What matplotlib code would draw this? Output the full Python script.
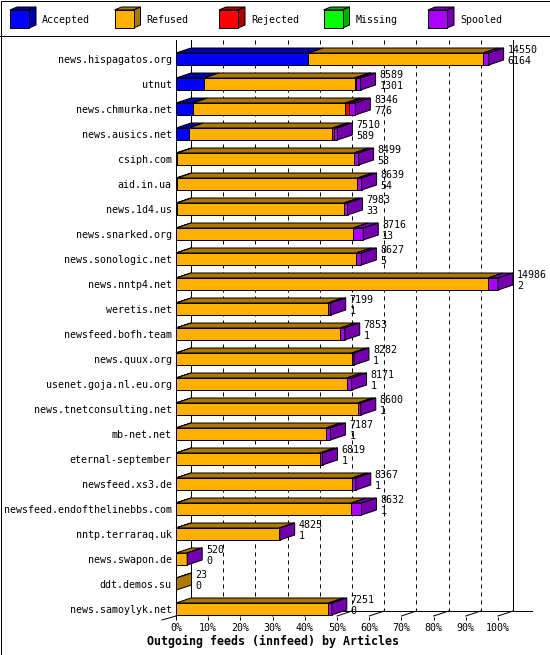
import numpy as np
import matplotlib
matplotlib.use("Agg")
import matplotlib.pyplot as plt
from matplotlib.patches import Polygon, Rectangle

hosts = ["news.hispagatos.org", "utnut", "news.chmurka.net", "news.ausics.net",
         "csiph.com", "aid.in.ua", "news.1d4.us", "news.snarked.org",
         "news.sonologic.net", "news.nntp4.net", "weretis.net", "newsfeed.bofh.team",
         "news.quux.org", "usenet.goja.nl.eu.org", "news.tnetconsulting.net",
         "mb-net.net", "eternal-september", "newsfeed.xs3.de",
         "newsfeed.endofthelinebbs.com", "nntp.terraraq.uk", "news.swapon.de",
         "ddt.demos.su", "news.samoylyk.net"]
offered = [14550, 8589, 8346, 7510, 8499, 8639, 7983, 8716, 8627, 14986, 7199, 7853,
           8282, 8171, 8600, 7187, 6819, 8367, 8632, 4825, 520, 23, 7251]
accepted = [6164, 1301, 776, 589, 58, 54, 33, 13, 5, 2, 1, 1,
            1, 1, 1, 1, 1, 1, 1, 1, 0, 0, 0]
rejected = [0, 70, 190, 60, 0, 0, 0, 0, 0, 0, 0, 0,
            0, 0, 0, 0, 0, 0, 0, 0, 0, 0, 0]
missing = [0] * 23
spooled = [260, 210, 280, 170, 230, 200, 170, 480, 250, 470, 140, 215,
           110, 230, 150, 215, 140, 185, 480, 15, 10, 0, 155]
refused = [o - a - r - m - s for o, a, r, m, s in
           zip(offered, accepted, rejected, missing, spooled)]

series = ["Accepted", "Refused", "Rejected", "Missing", "Spooled"]
colors = ["#0000ff", "#ffb000", "#ff0000", "#00ff00", "#aa00ff"]


def dark(c, f=0.68):
    rgb = np.array(matplotlib.colors.to_rgb(c))
    return tuple(rgb * f)


font = "DejaVu Sans Mono"
fs = 7.2
lw = 0.72

fig = plt.figure(figsize=(5.5, 6.55), dpi=100)

# frame + legend in pixel coordinates
bg = fig.add_axes([0, 0, 1, 1])
bg.set_xlim(0, 550)
bg.set_ylim(655, 0)
bg.axis("off")
bg.add_patch(Rectangle((0.5, 0.5), 549, 654, fill=False, ec="black", lw=lw))
bg.plot([0, 550], [35.5, 35.5], color="black", lw=lw)
for i, (name, c) in enumerate(zip(series, colors)):
    x0 = 10 + i * 104.5
    bg.add_patch(Polygon([(x0, 10), (x0 + 19, 10), (x0 + 26, 7), (x0 + 7, 7)],
                         fc=dark(c), ec="black", lw=lw))
    bg.add_patch(Polygon([(x0 + 19, 10), (x0 + 19, 28), (x0 + 26, 25), (x0 + 26, 7)],
                         fc=dark(c), ec="black", lw=lw))
    bg.add_patch(Rectangle((x0, 10), 19, 18, fc=c, ec="black", lw=lw))
    bg.text(x0 + 32, 20, name, family=font, fontsize=fs, va="center", ha="left")

# data axes: front plane of the 3D chart
n = len(hosts)
vmax = max(offered)
ax = fig.add_axes([176 / 550, (655 - 617) / 655, 322 / 550, (617 - 40) / 655])
ax.set_xlim(0, vmax)
ax.set_ylim(22.32, -0.76)
ax.patch.set_alpha(0)
for s in ["top", "right", "bottom"]:
    ax.spines[s].set_visible(False)
ax.spines["left"].set_linewidth(lw)

ddx = 15 * vmax / 322      # depth offset in data units
ddy = 0.2                  # depth offset in rows
hh = 0.24                  # half height of front face
top_y = -0.76
floor_y = 22.08

# back wall
for k in range(11):
    xb = vmax * k / 10 + ddx
    if k in (0, 10):
        ax.plot([xb, xb], [top_y, floor_y], color="black", lw=lw, clip_on=False, zorder=1)
    else:
        ax.plot([xb, xb], [top_y, floor_y], color="black", lw=lw, ls=(0, (4, 4)),
                clip_on=False, zorder=1)
ax.plot([0, vmax * 1.106], [floor_y, floor_y], color="black", lw=lw, clip_on=False, zorder=1)
ax.plot([-14 * vmax / 322, 0], [22.44, 22.28], color="black", lw=lw, clip_on=False, zorder=1)
for k in range(11):
    xf = vmax * k / 10
    ax.plot([xf, xf + ddx], [22.28, floor_y], color="black", lw=lw, clip_on=False, zorder=1)

# bars
for i in range(n):
    vals = [accepted[i], refused[i], rejected[i], missing[i], spooled[i]]
    t, b = i - hh, i + hh
    left = 0
    last = colors[1]
    for v, c in zip(vals, colors):
        if v <= 0:
            continue
        x1 = left + v
        ax.add_patch(Polygon([(left, t), (x1, t), (x1 + ddx, t - ddy), (left + ddx, t - ddy)],
                             fc=dark(c), ec="black", lw=lw, clip_on=False, zorder=3))
        ax.add_patch(Rectangle((left, t), v, 2 * hh, fc=c, ec="black", lw=lw,
                               clip_on=False, zorder=3))
        left = x1
        last = c
    ax.add_patch(Polygon([(left, t), (left, b), (left + ddx, b - ddy), (left + ddx, t - ddy)],
                         fc=dark(last), ec="black", lw=lw, clip_on=False, zorder=3))
    ax.annotate(str(offered[i]), xy=(left + ddx, i), xytext=(4, 9), textcoords="offset pixels",
                family=font, fontsize=fs, va="center", ha="left", zorder=5,
                annotation_clip=False)
    ax.annotate(str(accepted[i]), xy=(left + ddx, i), xytext=(4, -2), textcoords="offset pixels",
                family=font, fontsize=fs, va="center", ha="left", zorder=5,
                annotation_clip=False)

ax.set_yticks(range(n))
ax.set_yticklabels(hosts, family=font, fontsize=fs)
ax.tick_params(axis="y", length=0, pad=3)
ax.set_xticks([vmax * k / 10 for k in range(11)])
ax.set_xticklabels([f"{k * 10}%" for k in range(11)], family=font, fontsize=fs)
ax.tick_params(axis="x", length=2.2, width=lw, pad=2)

bg.text(273, 641, "Outgoing feeds (innfeed) by Articles", family=font, fontsize=8.4,
        fontweight="bold", ha="center", va="center")

fig.savefig("out.png", dpi=100)
